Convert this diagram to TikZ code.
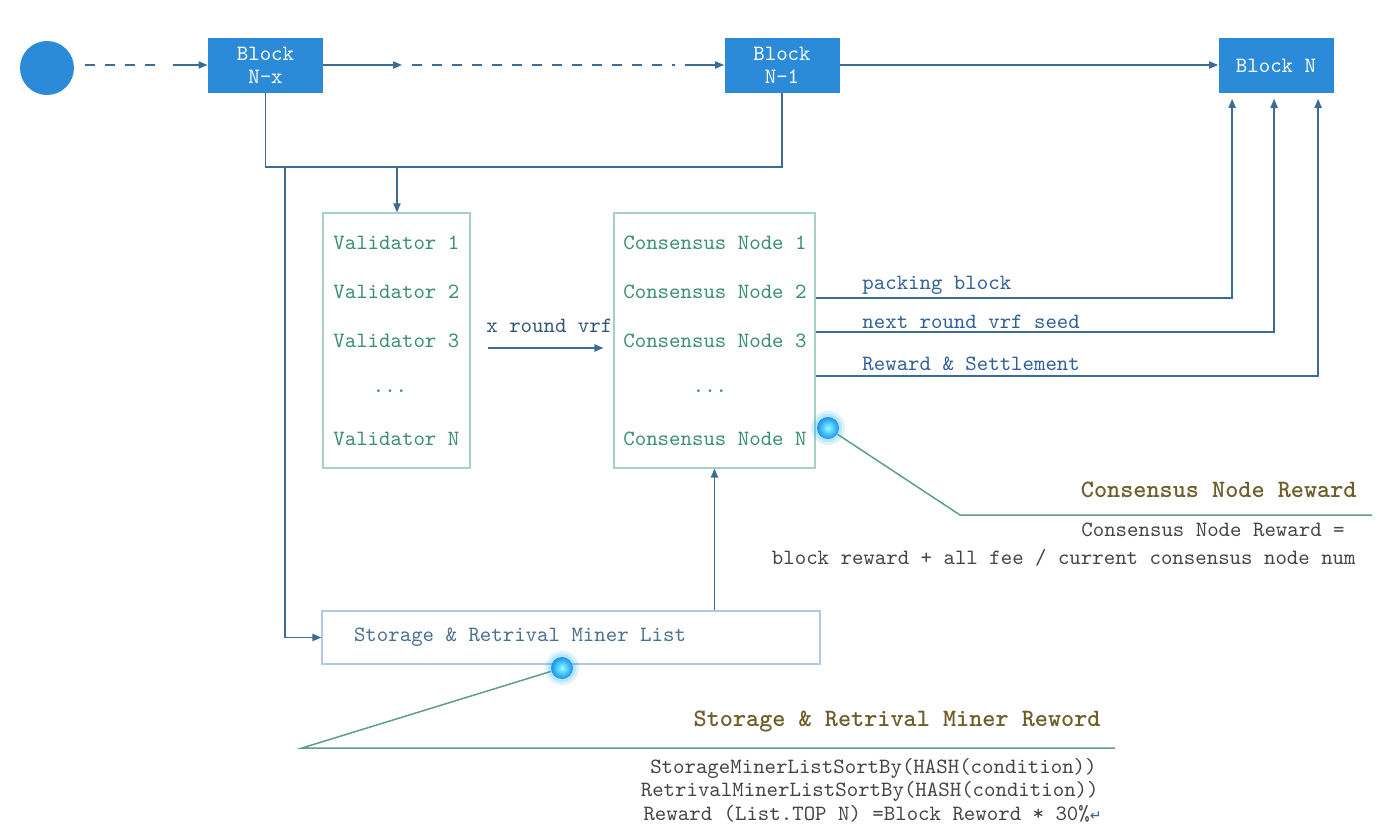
\documentclass[tikz,border=0pt]{standalone}
\usepackage{fontspec}
\newfontfamily\symf{DejaVu Sans}
\usetikzlibrary{arrows.meta,calc}
\definecolor{blockblue}{HTML}{2B8BD8}
\definecolor{linec}{HTML}{3C6B96}
\definecolor{boxgreen}{HTML}{A6D2C6}
\definecolor{rowgreen}{HTML}{3A8F70}
\definecolor{lblblue}{HTML}{2F5F99}
\definecolor{stoborder}{HTML}{B0C8E6}
\definecolor{stotext}{HTML}{4A7090}
\definecolor{calloutc}{HTML}{5E9E8C}
\definecolor{titlec}{HTML}{6E5E2C}
\definecolor{bodyc}{HTML}{444444}
\definecolor{glowblue}{HTML}{1BA3EE}
\begin{document}
\begin{tikzpicture}[x=0.5pt,y=-0.5pt,
  font=\ttfamily\fontsize{10.9}{11.5}\selectfont,
  line/.style={draw=linec, line width=0.7pt},
  conn/.style={line, -{Triangle[length=4.5pt,width=3.6pt]}},
  dashline/.style={line, dash pattern=on 5pt off 5pt},
  block/.style={fill=blockblue, text=white, minimum width=57.5pt, minimum height=27.5pt, inner sep=0pt, align=center},
  startc/.style={circle, fill=blockblue, minimum size=27pt, inner sep=0pt},
  listbox/.style={draw=boxgreen, line width=0.6pt, minimum width=73.5pt, minimum height=127.5pt, inner sep=0pt},
  row/.style={text=rowgreen, inner sep=0pt},
  lbl/.style={text=lblblue, inner sep=0pt},
  stobox/.style={draw=stoborder, line width=0.6pt, minimum width=249pt, minimum height=26.5pt, inner sep=0pt},
  glow/.style={circle, minimum size=11pt, inner sep=0pt, inner color=cyan!45!white, outer color=glowblue!90!blue},
  callout/.style={draw=calloutc, line width=0.75pt},
  ttl/.style={text=titlec, font=\ttfamily\bfseries\fontsize{12.5}{14}\selectfont, inner sep=0pt},
  body/.style={text=bodyc, inner sep=0pt}
]
\useasboundingbox[fill=white] (0,0) rectangle (1379,829);

% top chain
\node[startc] (st) at (47,68) {};
\node[block] (bnx) at (265.5,65.5) {Block\\N-x};
\node[block] (bn1) at (782,65.5) {Block\\N-1};
\node[block] (bn) at (1276,66) {Block N};

\coordinate (d0) at (165,65);
\coordinate (d1) at (173,65);
\draw[dashline, shorten <=5.5pt] (st.east |- d0) -- (d0);
\draw[conn] (d1) -- (d1 -| bnx.west);

\coordinate (m1) at (402,65);
\coordinate (m2) at (412,65);
\coordinate (m3) at (675,65);
\coordinate (m4) at (685,65);
\draw[conn] (m1 -| bnx.east) -- (m1);
\draw[dashline] (m2) -- (m3);
\draw[conn] (m4) -- (m4 -| bn1.west);
\draw[conn] (m4 -| bn1.east) -- (m4 -| bn.west);

% junction below blocks
\coordinate (jB) at (782,167);
\coordinate (jC) at (285,167);
\coordinate (jD) at (397,167);
\draw[line] (bnx.south) |- (jB) -- (bn1.south);

% lists
\node[listbox] (val) at (396.5,340.5) {};
\node[listbox, minimum width=100.5pt] (cons) at (714.5,340.5) {};
\draw[conn] (jD) -- (jD |- val.north);

\node[row, anchor=west] (v1) at (333,243) {Validator 1};
\node[row, anchor=west] (v2) at (333,292) {Validator 2};
\node[row, anchor=west] (v3) at (333,341) {Validator 3};
\node[row] (vd) at (390,391) {...};
\node[row, anchor=west] (vn) at (333,439) {Validator N};

\node[row, anchor=west] (c1) at (623,243) {Consensus Node 1};
\node[row, anchor=west] (c2) at (623,292) {Consensus Node 2};
\node[row, anchor=west] (c3) at (623,341) {Consensus Node 3};
\node[row] (cd) at (710,391) {...};
\node[row, anchor=west] (cn) at (623,439) {Consensus Node N};

% x round vrf
\coordinate (vy) at (0,348);
\node[lbl, anchor=west, text=linec!80!black] (vrf) at (486,326) {x round vrf};
\draw[conn, shorten <=8.5pt, shorten >=5pt] (val.east |- vy) -- (cons.west |- vy);

% outputs to Block N
\coordinate (bA) at ($(bn.south west)+(14,0)$);
\coordinate (bB) at ($(bn.south west)+(56,0)$);
\coordinate (bC) at ($(bn.south west)+(100,0)$);
\coordinate (yA) at (0,298);
\coordinate (yB) at (0,332);
\coordinate (yC) at (0,376);
\draw[conn, shorten >=2.5pt] (cons.east |- yA) -| (bA);
\draw[conn, shorten >=2.5pt] (cons.east |- yB) -| (bB);
\draw[conn, shorten >=2.5pt] (cons.east |- yC) -| (bC);
\node[lbl, anchor=west] (pk) at (862,285) {packing block};
\node[lbl, anchor=west] (ns) at (862,322) {next round vrf seed};
\node[lbl, anchor=west] (rs) at (862,364) {Reward \& Settlement};

% storage list
\node[stobox] (sto) at (571,637.5) {};
\node[text=stotext, inner sep=0pt] (stot) at (520,637) {Storage \& Retrival Miner List};
\draw[conn] (jC) |- (sto.west);
\draw[conn] (sto.north -| cons.south) -- (cons.south);

% callout 1
\fill[cyan, opacity=0.15] (828,428) circle[radius=8.5pt];
\fill[cyan, opacity=0.15] (828,428) circle[radius=7pt];
\node[glow] (g1) at (828,428) {};
\coordinate (k1) at (960,515);
\coordinate (k1e) at (1372,515);
\draw[callout] (g1) -- (k1) -- (k1e);
\node[ttl, anchor=east] (t1) at (1357,490) {Consensus Node Reward};
\node[body, anchor=east] (b1) at (1345,530) {Consensus Node Reward =};
\node[body, anchor=east] (b2) at (1356,558) {block reward + all fee / current consensus node num};

% callout 2
\fill[cyan, opacity=0.15] (562,668) circle[radius=8.5pt];
\fill[cyan, opacity=0.15] (562,668) circle[radius=7pt];
\node[glow] (g2) at (562,668) {};
\coordinate (k2) at (302,748);
\coordinate (k2e) at (1115,748);
\draw[callout] (g2) -- (k2) -- (k2e);
\node[ttl, anchor=east] (t2) at (1101,722) {Storage \& Retrival Miner Reword};
\node[body, anchor=east] (s1) at (1097,768) {StorageMinerListSortBy(HASH(condition))};
\node[body, anchor=east] (s2) at (1099,791) {RetrivalMinerListSortBy(HASH(condition))};
\node[body, anchor=east] (s3) at (1102,814) {Reward (List.TOP N) =Block Reword * 30\%{\symf\color{lblblue}\fontsize{7}{8}\selectfont ↵}};
\end{tikzpicture}
\end{document}
